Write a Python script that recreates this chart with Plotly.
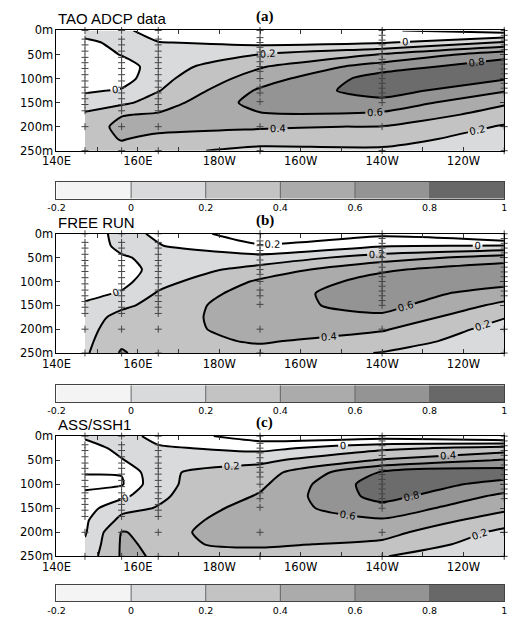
import plotly.graph_objects as go

W, H = 513, 622

# ---------------- data ----------------
lons = [147, 156, 165, 190, 220, 250]          # mooring longitudes (deg E)
depths = [0, 25, 50, 75, 100, 125, 150, 175, 200, 225, 250]   # m

# zonal velocity (m/s); rows = depths, columns = lons
u_tao = [
    [0.08, 0.07, -0.15, -0.18, -0.18, -0.30],
    [-0.04, 0.05, 0.01, -0.06, -0.02, 0.22],
    [-0.12, 0.01, 0.06, 0.205, 0.41, 0.72],
    [-0.15, -0.10, 0.10, 0.38, 0.70, 0.92],
    [-0.10, -0.09, 0.14, 0.50, 0.90, 0.82],
    [-0.03, 0.02, 0.19, 0.63, 0.90, 0.62],
    [0.10, 0.15, 0.30, 0.68, 0.73, 0.43],
    [0.23, 0.39, 0.42, 0.58, 0.56, 0.31],
    [0.30, 0.45, 0.45, 0.41, 0.395, 0.18],
    [0.32, 0.41, 0.36, 0.36, 0.27, 0.12],
    [0.30, 0.35, 0.28, 0.11, 0.17, 0.08],
]
u_free = [
    [-0.10, 0.06, -0.03, -0.35, -0.25, -0.50],
    [-0.12, 0.05, 0.01, -0.18, -0.02, 0.01],
    [-0.15, -0.02, 0.05, 0.07, 0.30, 0.50],
    [-0.18, -0.08, 0.064, 0.28, 0.57, 0.72],
    [-0.14, -0.06, 0.13, 0.43, 0.68, 0.68],
    [-0.06, 0.02, 0.22, 0.50, 0.72, 0.50],
    [0.03, 0.15, 0.28, 0.53, 0.67, 0.35],
    [0.08, 0.28, 0.32, 0.50, 0.56, 0.21],
    [0.12, 0.33, 0.34, 0.465, 0.42, 0.12],
    [0.15, 0.36, 0.33, 0.42, 0.31, 0.07],
    [0.17, 0.42, 0.30, 0.33, 0.19, 0.04],
]
u_ass = [
    [0.03, 0.10, -0.08, -0.30, -0.30, -0.45],
    [-0.08, 0.05, 0.03, -0.06, 0.15, 0.28],
    [-0.14, -0.01, 0.12, 0.15, 0.42, 0.62],
    [-0.19, -0.19, 0.17, 0.30, 0.82, 0.90],
    [-0.24, -0.22, 0.16, 0.36, 0.92, 0.74],
    [-0.16, -0.05, 0.17, 0.42, 0.88, 0.55],
    [-0.09, 0.15, 0.21, 0.50, 0.72, 0.44],
    [-0.03, 0.25, 0.30, 0.52, 0.58, 0.30],
    [-0.02, 0.41, 0.35, 0.50, 0.47, 0.15],
    [0.03, 0.42, 0.375, 0.43, 0.36, 0.08],
    [0.08, 0.42, 0.39, 0.32, 0.21, 0.03],
]

# ADCP measurement depths at each mooring (+ marks)
obs_147 = [0, 18, 30, 43, 56, 67, 79, 92, 105, 118, 130, 142, 154, 167, 200, 250]
obs_156 = [0, 18, 30, 43, 56, 67, 79, 92, 105, 118, 130, 142, 154, 167, 200, 250]
obs_165 = [0, 18, 30, 43, 56, 67, 79, 92, 105, 118, 130, 142, 154, 167, 200, 250]
obs_190 = [0, 15, 25, 35, 45, 55, 65, 75, 85, 100, 118, 130, 148, 200, 250]
obs_220 = [0, 10, 20, 30, 40, 50, 60, 70, 80, 90, 100, 110, 120, 130, 140, 150, 200, 250]
obs_250 = [0, 10, 20, 30, 40, 50, 60, 70, 80, 90, 100, 110, 120, 130, 200, 250]
obs_depths = [obs_147, obs_156, obs_165, obs_190, obs_220, obs_250]

levels = [-0.2, 0.0, 0.2, 0.4, 0.6, 0.8, 1.0]
level_text = ["-0.2", "0", "0.2", "0.4", "0.6", "0.8", "1"]
# band fills: below -0.2, -0.2..0, 0..0.2, ..., 0.8..1, above 1
band_colors = ["#ffffff", "#f4f4f4", "#d9dadb", "#c3c3c3", "#ababab", "#949494", "#686868", "#686868"]
field_colors = ["#ffffff", "#ffffff", "#d9dadb", "#c3c3c3", "#ababab", "#949494", "#6c6c6c", "#6c6c6c"]

xtick_vals = [140, 150, 160, 170, 180, 190, 200, 210, 220, 230, 240, 250]
xtick_text = ["140E", "", "160E", "", "180W", "", "160W", "", "140W", "", "120W", ""]
ytick_vals = [0, 50, 100, 150, 200, 250]
ytick_text = ["0m", "50m", "100m", "150m", "200m", "250m"]

panel_fields = [u_tao, u_free, u_ass]
panel_names = ["TAO ADCP data", "FREE RUN", "ASS/SSH1"]
panel_tags = ["(a)", "(b)", "(c)"]

# ---------------- layout geometry (pixels) ----------------
X0, X1 = 43, 507
plot_rows = [(24, 147), (232, 354), (439, 562)]
cbar_rows = [(179, 196), (387, 404), (591, 608)]


def px_x(p):
    return p / W


def px_y(p):
    return 1 - p / H


nb = len(levels) + 1
cbar_scale = [[k / (nb - 1), c] for k, c in enumerate(band_colors)]
field_scale = [[k / (nb - 1), c] for k, c in enumerate(field_colors)]
step = levels[1] - levels[0]

fig = go.Figure()
layout = dict(width=W, height=H, margin=dict(l=0, r=0, t=0, b=0),
              paper_bgcolor="white", plot_bgcolor="white", showlegend=False)
annotations = []
axfont = dict(family="DejaVu Sans", size=11.5, color="black")

for i, (u, name, tag) in enumerate(zip(panel_fields, panel_names, panel_tags)):
    xa = "x" if i == 0 else f"x{i + 1}"
    ya = "y" if i == 0 else f"y{i + 1}"
    fig.add_trace(go.Contour(
        x=lons, y=depths, z=u, xaxis=xa, yaxis=ya,
        autocontour=False,
        contours=dict(start=levels[0], end=levels[-1], size=step, coloring="fill",
                      showlabels=True,
                      labelfont=dict(family="DejaVu Sans", size=10, color="black")),
        colorscale=field_scale, showscale=False,
        line=dict(color="black", width=2, smoothing=0.6),
        hoverinfo="skip"))
    for lon, dl in zip(lons, obs_depths):
        fig.add_trace(go.Scatter(
            x=[lon] * len(dl), y=dl, xaxis=xa, yaxis=ya, mode="markers",
            marker=dict(symbol="cross-thin", size=5, line=dict(width=1, color="#444444")),
            hoverinfo="skip", cliponaxis=False))
    top, bot = plot_rows[i]
    key = "" if i == 0 else str(i + 1)
    layout["xaxis" + key] = dict(
        domain=[px_x(X0), px_x(X1)], range=[140, 250], anchor=ya,
        tickvals=xtick_vals, ticktext=xtick_text, ticks="inside", ticklen=4,
        tickcolor="#333333",
        showline=True, mirror="ticks", linecolor="black", linewidth=1,
        showgrid=False, zeroline=False, tickfont=axfont)
    layout["yaxis" + key] = dict(
        domain=[px_y(bot), px_y(top)], range=[250, 0], anchor=xa,
        tickvals=ytick_vals, ticktext=ytick_text, ticks="inside", ticklen=4,
        tickcolor="#333333",
        showline=True, mirror="ticks", linecolor="black", linewidth=1,
        showgrid=False, zeroline=False, tickfont=axfont)

    # colorbar drawn as a one-row heatmap
    j = i + 4
    cxa, cya = f"x{j}", f"y{j}"
    centers = [(a + b) / 2 for a, b in zip(levels[:-1], levels[1:])]
    fig.add_trace(go.Heatmap(
        x=centers, y=[0], z=[centers], xaxis=cxa, yaxis=cya,
        colorscale=cbar_scale, zmin=levels[0] - step / 2, zmax=levels[-1] + step / 2,
        showscale=False, hoverinfo="skip"))
    dx, dy = [], []
    for lv in levels[1:-1]:
        dx += [lv, lv, None]
        dy += [-0.5, 0.5, None]
    fig.add_trace(go.Scatter(x=dx, y=dy, xaxis=cxa, yaxis=cya, mode="lines",
                             line=dict(color="#666666", width=1), hoverinfo="skip"))
    ctop, cbot = cbar_rows[i]
    layout[f"xaxis{j}"] = dict(
        domain=[px_x(X0), px_x(X1)], range=[levels[0], levels[-1]], anchor=cya,
        tickvals=levels, ticktext=level_text, ticks="", showline=True, mirror=True,
        linecolor="#444444", linewidth=1, showgrid=False, zeroline=False,
        tickfont=dict(family="DejaVu Sans", size=9.5, color="black"))
    layout[f"yaxis{j}"] = dict(
        domain=[px_y(cbot), px_y(ctop)], range=[-0.5, 0.5], anchor=cxa,
        showticklabels=False, ticks="", showline=True, mirror=True,
        linecolor="#444444", linewidth=1, showgrid=False, zeroline=False)

    annotations.append(dict(text=f"<b>{tag}</b>", x=0.505, y=px_y(top - 14),
                            xref="paper", yref="paper", showarrow=False,
                            xanchor="center", yanchor="middle",
                            font=dict(family="Liberation Serif", size=15, color="black")))
    annotations.append(dict(text=name, x=px_x(X0 - 1), y=px_y(top - 1),
                            xref="paper", yref="paper", showarrow=False,
                            xanchor="left", yanchor="bottom",
                            font=dict(family="Liberation Sans", size=15, color="black")))

layout["annotations"] = annotations
fig.update_layout(**layout)
fig.write_html("out.html")
